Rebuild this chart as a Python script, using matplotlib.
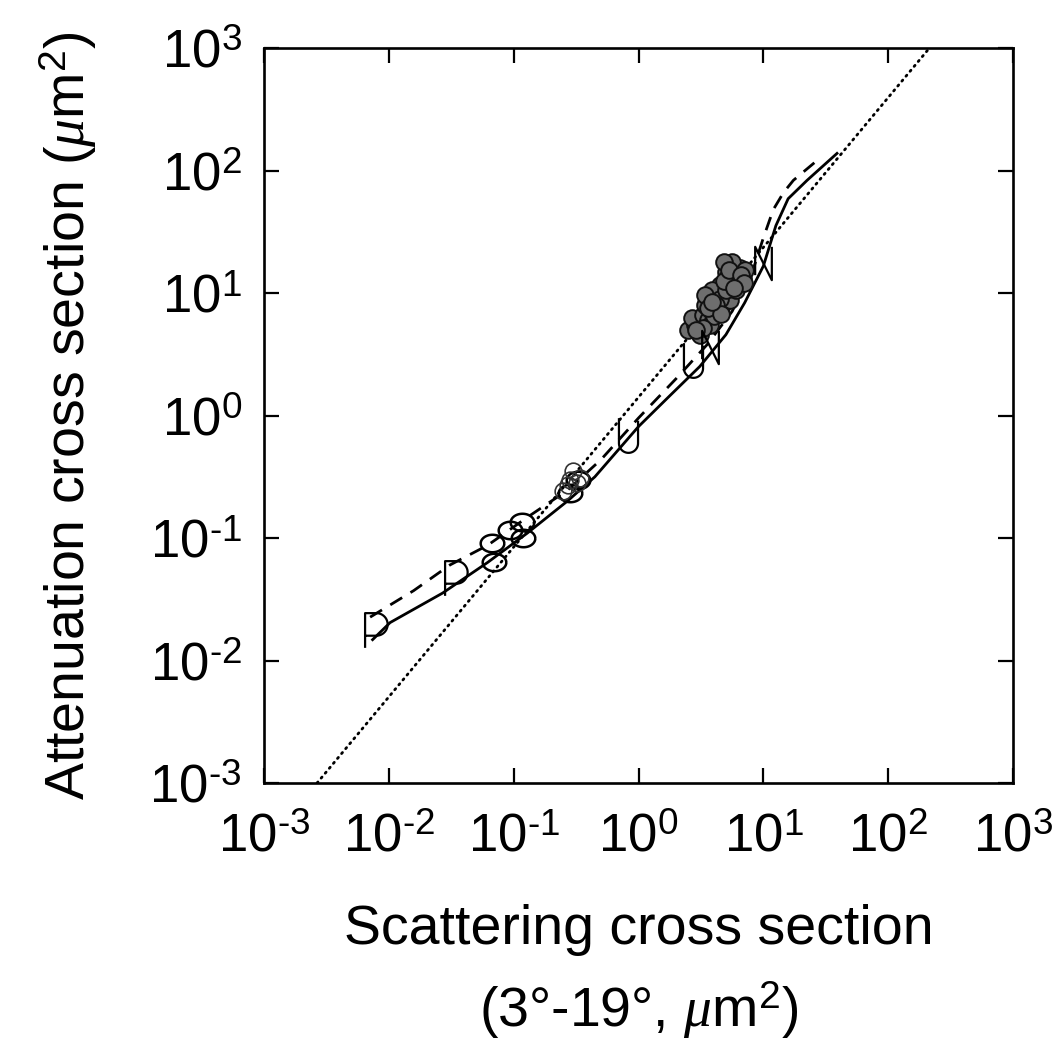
import matplotlib
matplotlib.use('Agg')
import matplotlib.pyplot as plt
import numpy as np
from matplotlib.path import Path
from matplotlib.ticker import NullLocator, FixedLocator, FixedFormatter

plt.rcParams['font.family'] = ['Liberation Sans', 'DejaVu Sans']
plt.rcParams['mathtext.fontset'] = 'custom'
plt.rcParams['mathtext.rm'] = 'Liberation Sans'
plt.rcParams['mathtext.it'] = 'Liberation Serif:italic'
plt.rcParams['mathtext.bf'] = 'Liberation Sans:bold'
plt.rcParams['axes.unicode_minus'] = False

# ---------------- data ----------------
solid_x = [0.00741, 0.01023, 0.0269, 0.0617, 0.129, 0.269, 0.447, 1.0, 1.78, 3.09,
           5.01, 7.08, 10.0, 12.6, 15.8, 22.4, 38.9]
solid_y = [0.0148, 0.0204, 0.0355, 0.0631, 0.110, 0.200, 0.316, 0.813, 1.45, 2.51,
           4.57, 8.32, 16.6, 35.5, 58.9, 83.2, 138]

dashed_x = [0.00708, 0.0158, 0.0309, 0.0617, 0.129, 0.269, 0.501, 1.0, 2.0, 3.55,
            5.62, 8.32, 10.0, 12.0, 14.5, 17.4, 27.5]
dashed_y = [0.0226, 0.0372, 0.0603, 0.0871, 0.148, 0.245, 0.437, 0.955, 2.0, 3.80,
            7.08, 15.8, 28.2, 47.9, 66.1, 83.2, 123]

dotted_x = [0.00266, 214]
dotted_y = [0.001, 1000]

p_x = [0.00774, 0.0339]
p_y = [0.0177, 0.0471]

ell_x = [0.0671, 0.0697, 0.0935, 0.1167, 0.119, 0.285, 0.33]
ell_y = [0.091, 0.0637, 0.116, 0.135, 0.100, 0.235, 0.30]

circ_x = [0.25, 0.28, 0.30, 0.32, 0.27, 0.34]
circ_y = [0.24, 0.30, 0.35, 0.28, 0.27, 0.31]

u_x = [0.826, 2.74]
u_y = [0.69, 2.84]

n_x = [3.75, 9.95]
n_y = [3.62, 17.6]

cluster_x = [2.50, 2.84, 3.12, 2.69, 3.30, 3.01, 3.61, 3.89, 3.42, 3.75, 4.11, 4.35,
             4.68, 4.51, 4.94, 5.22, 5.42, 5.04, 5.73, 6.28, 5.94, 6.52, 6.89, 5.62,
             4.85, 5.42, 4.19, 3.75, 3.12, 7.14, 6.05, 5.13, 3.89, 3.42,
             4.0, 4.5, 5.0, 5.5, 6.0, 4.2, 3.3, 3.6, 4.8, 5.3, 6.6, 7.0, 4.6, 2.9,
             3.9, 5.8]
cluster_y = [4.99, 5.48, 5.80, 6.25, 6.61, 4.81, 6.02, 7.00, 7.98, 9.10, 8.77, 10.2,
             7.98, 11.6, 9.63, 11.0, 12.8, 14.8, 15.4, 14.8, 12.3, 16.0, 13.2, 17.9,
             17.9, 8.77, 7.26, 5.48, 4.54, 15.4, 10.6, 13.2, 10.6, 9.63,
             6.5, 9.0, 10.5, 12.0, 13.5, 8.0, 5.2, 7.5, 12.5, 15.5, 14.0, 12.0, 6.8, 5.0,
             8.5, 11.0]

ticks = [1e-3, 1e-2, 1e-1, 1e0, 1e1, 1e2, 1e3]
tick_labels = ['$10^{\\text{-}3}$', '$10^{\\text{-}2}$', '$10^{\\text{-}1}$',
               '$10^{0}$', '$10^{1}$', '$10^{2}$', '$10^{3}$']

# ---------------- marker shapes (line drawings) ----------------
def p_marker():
    a = np.linspace(np.pi / 2, -np.pi / 2, 30)
    bowl = np.column_stack([0.05 + 0.65 * np.cos(a), 0.35 + 0.65 * np.sin(a)])
    verts = [(-0.6, -1.0), (-0.6, 1.0), (0.05, 1.0)] + [tuple(v) for v in bowl] + [(-0.6, -0.3)]
    codes = [Path.MOVETO] + [Path.LINETO] * (len(verts) - 1)
    return Path(verts, codes)

def u_marker():
    a = np.linspace(np.pi, 2 * np.pi, 30)
    cup = np.column_stack([0.55 * np.cos(a), -0.45 + 0.55 * np.sin(a)])
    verts = [(-0.55, 1.0)] + [tuple(v) for v in cup] + [(0.55, 0.85)]
    codes = [Path.MOVETO] + [Path.LINETO] * (len(verts) - 1)
    return Path(verts, codes)

def n_marker():
    verts = [(-0.5, -0.7), (-0.5, 1.0), (0.5, -1.0), (0.5, 1.0)]
    codes = [Path.MOVETO, Path.LINETO, Path.LINETO, Path.LINETO]
    return Path(verts, codes)

t = np.linspace(0, 2 * np.pi, 60)
ell_path = Path(np.column_stack([1.35 * np.cos(t), np.sin(t)]))

# ---------------- figure ----------------
fig = plt.figure(figsize=(10.59, 10.58), dpi=100)
ax = fig.add_axes([0.2493, 0.2599, 0.7073, 0.6947])
ax.set_xscale('log')
ax.set_yscale('log')
ax.set_xlim(1e-3, 1e3)
ax.set_ylim(1e-3, 1e3)

ax.plot(dotted_x, dotted_y, color='black', lw=2.0, linestyle=(0, (0.5, 1.8)),
        dash_capstyle='round')
ax.plot(solid_x, solid_y, color='black', lw=2.0)
ax.plot(dashed_x, dashed_y, color='black', lw=2.0, linestyle=(0, (5, 3.5)))

ax.plot(cluster_x, cluster_y, marker='o', markersize=12, mfc='#6e6e6e', mec='#111111',
        mew=1.4, linestyle='none')
ax.plot(p_x, p_y, marker=p_marker(), markersize=25, mfc='none', mec='black', mew=1.6,
        linestyle='none')
ax.plot(ell_x, ell_y, marker=ell_path, markersize=17, mfc='none', mec='black', mew=1.8,
        linestyle='none')
ax.plot(circ_x, circ_y, marker='o', markersize=12, mfc='none', mec='#333333', mew=1.2,
        linestyle='none')
ax.plot(u_x, u_y, marker=u_marker(), markersize=25, mfc='none', mec='black', mew=1.6,
        linestyle='none')
ax.plot(n_x, n_y, marker=n_marker(), markersize=24, mfc='none', mec='black', mew=1.6,
        linestyle='none')

ax.xaxis.set_major_locator(FixedLocator(ticks))
ax.yaxis.set_major_locator(FixedLocator(ticks))
ax.xaxis.set_major_formatter(FixedFormatter(tick_labels))
ax.yaxis.set_major_formatter(FixedFormatter(tick_labels))
ax.xaxis.set_minor_locator(NullLocator())
ax.yaxis.set_minor_locator(NullLocator())
ax.tick_params(which='major', direction='in', length=11, width=1.6,
               top=True, right=True, labelsize=38)
ax.tick_params(axis='x', pad=21)
ax.tick_params(axis='y', pad=16)
for s in ax.spines.values():
    s.set_linewidth(1.9)

ax.set_ylabel('Attenuation cross section ($\\mathit{\\mu}$m$^2$)', fontsize=40,
              va='center')
ax.yaxis.set_label_coords(-0.262, 0.5)
ax.set_xlabel('Scattering cross section', fontsize=40, va='center')
ax.xaxis.set_label_coords(0.5, -0.2)
ax.text(0.5, -0.309, '(3°-19°, $\\mathit{\\mu}$m$^2$)', fontsize=40, ha='center',
        va='center', transform=ax.transAxes)

fig.savefig('out.png', dpi=100)
